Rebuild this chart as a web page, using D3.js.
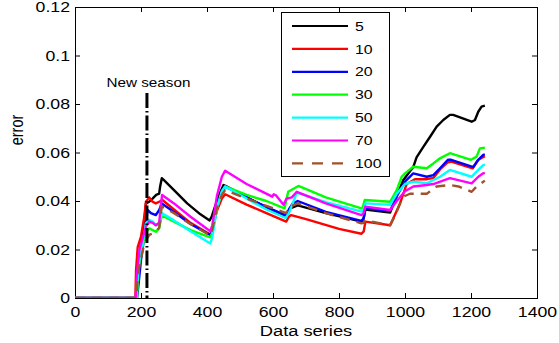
<!DOCTYPE html>
<html>
<head>
<meta charset="utf-8">
<script src="https://cdn.jsdelivr.net/npm/d3@7/dist/d3.min.js"></script>
<style>
  html, body { margin: 0; padding: 0; background: #fff; }
  svg { display: block; }
  text { font-family: "Liberation Sans", Arial, Helvetica, sans-serif; fill: #000; }
</style>
</head>
<body>
<svg id="chart" width="559" height="343"></svg>
<script>
// Window size (number of past data points) for each error curve
const windowSizes = ["5", "10", "20", "30", "50", "70", "100"];
const seriesColors = ["#000000", "#ff0000", "#0000ff", "#00ff00", "#00ffff", "#ff00ff", "#a0522d"];

// Axis ticks
const xTicks = [0, 200, 400, 600, 800, 1000, 1200, 1400];
const yTicks = [0, 0.02, 0.04, 0.06, 0.08, 0.1, 0.12];
const yTickLabels = ["0", "0.02", "0.04", "0.06", "0.08", "0.1", "0.12"];

// Start of the new season (data index) and the marker height
const newSeasonX = 218;
const newSeasonTop = 0.0845;

// Error per data series, [index, error]
const err5 = [[0,0],[186,0],[190,0.0115],[195,0.017],[200,0.0232],[210,0.0315],[215,0.039],[225,0.0397],[235,0.041],[246,0.0425],[255,0.043],[258,0.046],[263,0.0494],[268,0.0488],[300,0.0445],[340,0.039],[380,0.0345],[408,0.032],[414,0.0335],[425,0.038],[440,0.0435],[450,0.0466],[460,0.046],[520,0.0415],[580,0.0375],[638,0.034],[645,0.0345],[652,0.037],[675,0.0382],[760,0.035],[868,0.0315],[874,0.0325],[880,0.0365],[955,0.0352],[975,0.042],[995,0.0487],[1025,0.054],[1035,0.058],[1056,0.0624],[1076,0.0665],[1096,0.0707],[1116,0.0734],[1136,0.0755],[1146,0.0755],[1202,0.0727],[1212,0.0734],[1222,0.0768],[1232,0.0789],[1242,0.0793]];
const err10 = [[0,0],[183,0],[185,0.0115],[190,0.021],[200,0.0253],[210,0.0335],[215,0.0397],[225,0.0415],[235,0.0397],[245,0.039],[255,0.0397],[265,0.0404],[300,0.0365],[350,0.031],[410,0.0262],[416,0.028],[430,0.036],[445,0.041],[455,0.0428],[520,0.0385],[580,0.035],[640,0.0315],[648,0.0335],[655,0.0342],[700,0.0325],[800,0.0285],[868,0.0265],[875,0.0275],[880,0.0315],[955,0.030],[985,0.039],[1005,0.047],[1030,0.049],[1066,0.049],[1086,0.0495],[1106,0.053],[1130,0.056],[1140,0.0562],[1205,0.0535],[1222,0.057],[1242,0.0585]];
const err20 = [[0,0],[188,0],[192,0.005],[200,0.0157],[210,0.0253],[220,0.0363],[230,0.035],[245,0.0342],[255,0.0363],[263,0.039],[300,0.0355],[350,0.0305],[410,0.026],[416,0.028],[430,0.038],[445,0.044],[455,0.046],[520,0.0415],[580,0.0375],[640,0.034],[648,0.0365],[660,0.039],[675,0.040],[760,0.0355],[868,0.0318],[875,0.033],[880,0.037],[955,0.036],[975,0.042],[1000,0.048],[1025,0.0514],[1066,0.050],[1086,0.0507],[1106,0.0535],[1130,0.057],[1140,0.057],[1207,0.054],[1222,0.057],[1237,0.059],[1242,0.0592]];
const err30 = [[0,0],[188,0],[192,0.0115],[200,0.0184],[215,0.0273],[225,0.0287],[245,0.0273],[255,0.0287],[263,0.034],[300,0.0315],[350,0.028],[410,0.025],[416,0.027],[430,0.037],[445,0.0435],[455,0.046],[520,0.0425],[580,0.040],[635,0.037],[646,0.0438],[677,0.0462],[760,0.0415],[868,0.037],[872,0.0375],[878,0.0404],[955,0.0397],[975,0.0445],[990,0.050],[1000,0.0514],[1025,0.0541],[1066,0.0535],[1086,0.0555],[1106,0.0576],[1136,0.0597],[1200,0.057],[1217,0.0583],[1227,0.0617],[1242,0.062]];
const err50 = [[0,0],[186,0],[190,0.008],[195,0.0157],[205,0.0225],[215,0.0308],[225,0.0322],[235,0.0315],[245,0.030],[255,0.0305],[263,0.035],[300,0.032],[350,0.0275],[410,0.0225],[416,0.025],[430,0.037],[445,0.044],[455,0.046],[520,0.041],[580,0.0365],[638,0.033],[648,0.035],[660,0.039],[672,0.0435],[760,0.0395],[868,0.0356],[874,0.036],[880,0.039],[955,0.0384],[975,0.043],[1000,0.047],[1025,0.048],[1066,0.0473],[1106,0.050],[1136,0.0528],[1202,0.050],[1222,0.0528],[1237,0.0548],[1242,0.055]];
const err70 = [[0,0],[184,0],[187,0.0088],[195,0.0198],[215,0.0294],[225,0.0315],[235,0.031],[245,0.030],[255,0.031],[260,0.038],[264,0.0425],[300,0.039],[350,0.0335],[410,0.0275],[416,0.030],[430,0.042],[445,0.050],[455,0.0525],[520,0.047],[598,0.0418],[602,0.0428],[610,0.0422],[632,0.0385],[641,0.041],[657,0.0415],[672,0.0438],[760,0.039],[868,0.0342],[874,0.0348],[880,0.0377],[955,0.0363],[975,0.040],[1000,0.044],[1025,0.046],[1066,0.0466],[1086,0.047],[1136,0.0494],[1202,0.0473],[1222,0.050],[1237,0.0514],[1242,0.0516]];
const err100 = [[0,0],[185,0],[188,0.0047],[193,0.0115],[210,0.0227],[225,0.026],[245,0.0273],[255,0.029],[263,0.0378],[300,0.035],[350,0.0305],[410,0.0258],[416,0.028],[430,0.037],[445,0.0425],[455,0.0445],[520,0.041],[580,0.038],[640,0.035],[648,0.0374],[675,0.039],[760,0.035],[868,0.0308],[874,0.031],[880,0.032],[955,0.030],[970,0.034],[985,0.039],[995,0.0418],[1015,0.043],[1066,0.043],[1096,0.046],[1136,0.0466],[1162,0.046],[1202,0.0438],[1217,0.046],[1242,0.0484]];

const errorSeries = [err5, err10, err20, err30, err50, err70, err100];

// Layout
const width = 559, height = 343;
const plot = { left: 75, right: 537, top: 7, bottom: 298 };
const TEXT_STRETCH = 1.22;   // horizontally widened lettering

const svg = d3.select("#chart");

const x = d3.scaleLinear().domain([0, 1400]).range([plot.left, plot.right]);
const y = d3.scaleLinear().domain([0, 0.12]).range([plot.bottom, plot.top]);

svg.append("defs").append("clipPath").attr("id", "plotClip")
  .append("rect")
  .attr("x", plot.left).attr("y", plot.top)
  .attr("width", plot.right - plot.left).attr("height", plot.bottom - plot.top);

// Ticks on all four sides, pointing inward
const axisB = svg.append("g").attr("transform", `translate(0,${plot.bottom})`)
  .call(d3.axisBottom(x).tickValues(xTicks).tickSizeInner(-5).tickSizeOuter(0).tickPadding(9)
    .tickFormat(d3.format("d")));
const axisL = svg.append("g").attr("transform", `translate(${plot.left},0)`)
  .call(d3.axisLeft(y).tickValues(yTicks).tickSizeInner(-5).tickSizeOuter(0).tickPadding(5)
    .tickFormat((d, i) => yTickLabels[i]));
svg.append("g").attr("transform", `translate(0,${plot.top})`)
  .call(d3.axisTop(x).tickValues(xTicks).tickSizeInner(-5).tickSizeOuter(0).tickFormat(""));
svg.append("g").attr("transform", `translate(${plot.right},0)`)
  .call(d3.axisRight(y).tickValues(yTicks).tickSizeInner(-5).tickSizeOuter(0).tickFormat(""));

svg.selectAll(".domain").remove();
svg.selectAll(".tick line").attr("stroke", "#000").attr("stroke-width", 1);

axisB.selectAll(".tick text")
  .attr("font-size", "14.5px").attr("font-family", "Liberation Sans, Arial, sans-serif")
  .attr("fill", "#000")
  .attr("transform", `scale(${TEXT_STRETCH},1)`);
axisL.selectAll(".tick text")
  .attr("font-size", "14.5px").attr("font-family", "Liberation Sans, Arial, sans-serif")
  .attr("fill", "#000")
  .attr("x", -5 / TEXT_STRETCH)
  .attr("transform", `scale(${TEXT_STRETCH},1)`);

// Frame
svg.append("rect")
  .attr("x", plot.left + 0.5).attr("y", plot.top + 0.5)
  .attr("width", plot.right - plot.left).attr("height", plot.bottom - plot.top)
  .attr("fill", "none").attr("stroke", "#000").attr("stroke-width", 1);

// Curves
const line = d3.line().x(d => x(d[0])).y(d => y(d[1]));
const curves = svg.append("g").attr("clip-path", "url(#plotClip)");
errorSeries.forEach((data, i) => {
  curves.append("path")
    .datum(data)
    .attr("d", line)
    .attr("fill", "none")
    .attr("stroke", seriesColors[i])
    .attr("stroke-width", 2.4)
    .attr("stroke-linejoin", "round")
    .attr("stroke-dasharray", windowSizes[i] === "100" ? "10,7" : null);
});

// New season marker
svg.append("line")
  .attr("x1", x(newSeasonX)).attr("x2", x(newSeasonX))
  .attr("y1", y(newSeasonTop)).attr("y2", y(0))
  .attr("stroke", "#000").attr("stroke-width", 3)
  .attr("stroke-dasharray", "15,3,1.5,3");

svg.append("text")
  .attr("transform", `translate(${x(newSeasonX) + 1.5},87) scale(${TEXT_STRETCH},1)`)
  .attr("text-anchor", "middle")
  .attr("font-size", "12.5px")
  .text("New season");

// Axis titles
svg.append("text")
  .attr("transform", `translate(${(plot.left + plot.right) / 2},336) scale(${TEXT_STRETCH},1)`)
  .attr("text-anchor", "middle")
  .attr("font-size", "15px")
  .text("Data series");

svg.append("text")
  .attr("transform", `translate(16.5,130) rotate(-90) scale(1,${TEXT_STRETCH})`)
  .attr("text-anchor", "middle")
  .attr("dy", "0.35em")
  .attr("font-size", "14.5px")
  .text("error");

// Legend
const legend = svg.append("g");
legend.append("rect")
  .attr("x", 281.5).attr("y", 12.5).attr("width", 108).attr("height", 164)
  .attr("fill", "#fff").attr("stroke", "#000").attr("stroke-width", 1);
windowSizes.forEach((label, i) => {
  const cy = 26 + i * 22.9;
  legend.append("line")
    .attr("x1", 292).attr("x2", 348).attr("y1", cy).attr("y2", cy)
    .attr("stroke", seriesColors[i]).attr("stroke-width", 2.2)
    .attr("stroke-dasharray", label === "100" ? "11,9" : null);
  legend.append("text")
    .attr("transform", `translate(355,${cy}) scale(${TEXT_STRETCH},1)`)
    .attr("dy", "0.36em")
    .attr("font-size", "13px")
    .text(label);
});
</script>
</body>
</html>
